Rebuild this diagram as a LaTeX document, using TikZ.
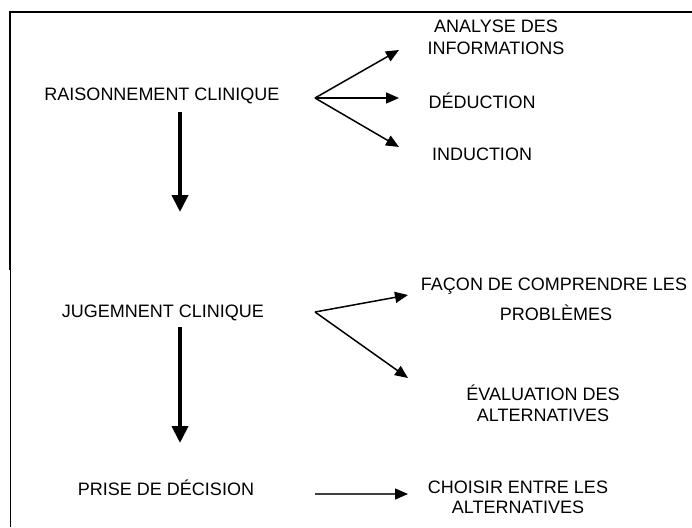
\documentclass[tikz,border=0pt]{standalone}
\usepackage{fontspec}
\setmainfont{Liberation Sans}
\usetikzlibrary{arrows.meta}
\tikzset{
  lbl/.style={anchor=base, inner sep=0pt, font=\fontsize{18}{20}\selectfont},
  thin arrow/.style={line width=1.5pt, -{Triangle[length=13pt,width=11pt]}},
  thick arrow/.style={line width=4pt, -{Triangle[length=17pt,width=16pt]}},
  grey arrow/.style={line width=1.3pt, draw=black!75, -{Triangle[length=13pt,width=11pt,color=black]}},
  frame/.style={draw=black}
}
\begin{document}
\begin{tikzpicture}[x=1pt,y=-1pt]
\useasboundingbox (0,0) rectangle (692,527);
% frame
\draw[frame, line width=1.2pt] (8.5,12) -- (692,12);
\draw[frame, line width=2pt] (9.5,12) -- (9.5,270);
\draw[frame, line width=1pt] (10.5,270) -- (10.5,527);
% main labels
\node[lbl] (rc) at (162,100) {RAISONNEMENT CLINIQUE};
\node[lbl] (jc) at (163,317) {JUGEMNENT CLINIQUE};
\node[lbl] (pd) at (166,495) {PRISE DE DÉCISION};
% right labels
\node[lbl] (an1) at (496,33) {ANALYSE DES};
\node[lbl] (an2) at (496,54) {INFORMATIONS};
\node[lbl] (ded) at (482,108) {DÉDUCTION};
\node[lbl] (ind) at (482,160) {INDUCTION};
\node[lbl] (fc1) at (554,290) {FAÇON DE COMPRENDRE LES};
\node[lbl] (fc2) at (556,320) {PROBLÈMES};
\node[lbl] (ev1) at (543,400) {ÉVALUATION DES};
\node[lbl] (ev2) at (543,421) {ALTERNATIVES};
\node[lbl] (ch1) at (518,493) {CHOISIR ENTRE LES};
\node[lbl] (ch2) at (518,513) {ALTERNATIVES};
% arrow coordinates
\coordinate (o1) at (315,98);
\coordinate (t1a) at (399,50);
\coordinate (t1b) at (399,98);
\coordinate (t1c) at (399,147);
\coordinate (o2) at (315,312);
\coordinate (t2a) at (408,295);
\coordinate (t2b) at (408,378);
\coordinate (o3) at (315,494);
\coordinate (t3) at (408,494);
\coordinate (v1s) at (180,112);
\coordinate (v1e) at (180,212);
\coordinate (v2s) at (180,327);
\coordinate (v2e) at (180,443);
% arrows
\draw[thin arrow] (o1) -- (t1a);
\draw[thin arrow] (o1) -- (t1b);
\draw[thin arrow] (o1) -- (t1c);
\draw[thin arrow] (o2) -- (t2a);
\draw[thin arrow] (o2) -- (t2b);
\draw[grey arrow] (o3) -- (t3);
\draw[thick arrow] (v1s) -- (v1e);
\draw[thick arrow] (v2s) -- (v2e);
\end{tikzpicture}
\end{document}
